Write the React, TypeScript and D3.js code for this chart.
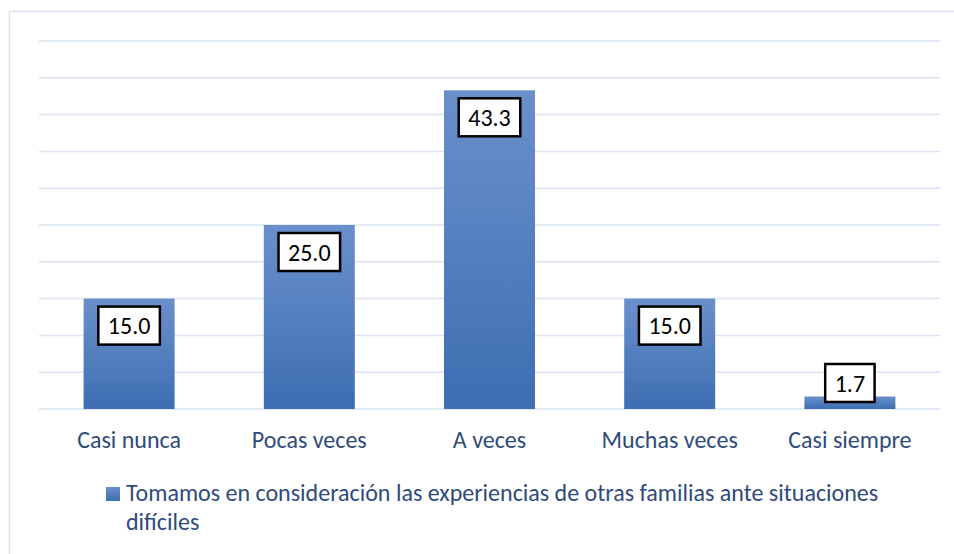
import React from "react";
import * as d3 from "d3";

const categories = ["Casi nunca", "Pocas veces", "A veces", "Muchas veces", "Casi siempre"];
const values = [15.0, 25.0, 43.3, 15.0, 1.7];
const yTicks = [0, 5, 10, 15, 20, 25, 30, 35, 40, 45, 50];
const legendLines = [
  "Tomamos en consideración las experiencias de otras familias ante situaciones",
  "difíciles",
];

const W = 954;
const H = 554;
const FONT = "Calibri, Carlito, Lato, 'Open Sans', sans-serif";
const TEXT = "#2f4b7c";

function textWidth(s: string, size: number) {
  if (typeof document === "undefined") return s.length * size * 0.5;
  const c = document.createElement("canvas").getContext("2d")!;
  c.font = `${size}px ${FONT}`;
  return c.measureText(s).width;
}

export default function App() {
  const x = d3.scaleBand<string>().domain(categories).range([39, 940]).paddingInner(0.495).paddingOuter(0.2475);
  const y = d3.scaleLinear().domain([0, 50]).range([409, 41]);
  const base = y(0);
  const fs = 24;

  return (
    <svg width={W} height={H} style={{ position: "absolute", left: 0, top: 0, background: "#fff" }}>
      <defs>
        <linearGradient id="barGrad" x1="0" y1="0" x2="0" y2="1">
          <stop offset="0%" stopColor="#6a90cb" />
          <stop offset="100%" stopColor="#3d6eb2" />
        </linearGradient>
      </defs>
      <rect x={0} y={0} width={W} height={H} fill="#fff" />
      {/* outer border */}
      <path d={`M9.5,${H} V11.5 H${W}`} fill="none" stroke="#dbe4f2" strokeWidth={1.5} />
      {/* gridlines */}
      {yTicks.map((t) => (
        <line key={t} x1={39} x2={940} y1={y(t)} y2={y(t)} stroke="#d9e3f3" strokeWidth={1.5} />
      ))}
      {/* bars */}
      {categories.map((c, i) => {
        const v = values[i];
        const top = y(v);
        return (
          <rect key={c} x={x(c)} y={top} width={x.bandwidth()} height={base - top} fill="url(#barGrad)" />
        );
      })}
      {/* data labels */}
      {categories.map((c, i) => {
        const v = values[i];
        const label = v.toFixed(1);
        const tw = textWidth(label, fs);
        const bw = tw + 19;
        const bh = 38;
        const top = y(v);
        const bt = Math.min(top + 8, base - 7 - bh);
        const cx = (x(c) as number) + x.bandwidth() / 2;
        return (
          <g key={c}>
            <rect x={cx - bw / 2} y={bt} width={bw} height={bh} fill="#fff" stroke="#000" strokeWidth={2.5} />
            <text x={cx} y={bt + bh / 2 + 8.5} textAnchor="middle" fontFamily={FONT} fontSize={fs} fill="#000">
              {label}
            </text>
          </g>
        );
      })}
      {/* category labels */}
      {categories.map((c) => (
        <text
          key={c}
          x={(x(c) as number) + x.bandwidth() / 2}
          y={448}
          textAnchor="middle"
          fontFamily={FONT}
          fontSize={fs}
          fill={TEXT}
        >
          {c}
        </text>
      ))}
      {/* legend */}
      <rect x={106} y={487} width={14} height={14} fill="url(#barGrad)" />
      {legendLines.map((l, i) => (
        <text key={i} x={126} y={501 + i * 28.5} fontFamily={FONT} fontSize={fs} fill={TEXT}>
          {l}
        </text>
      ))}
    </svg>
  );
}
